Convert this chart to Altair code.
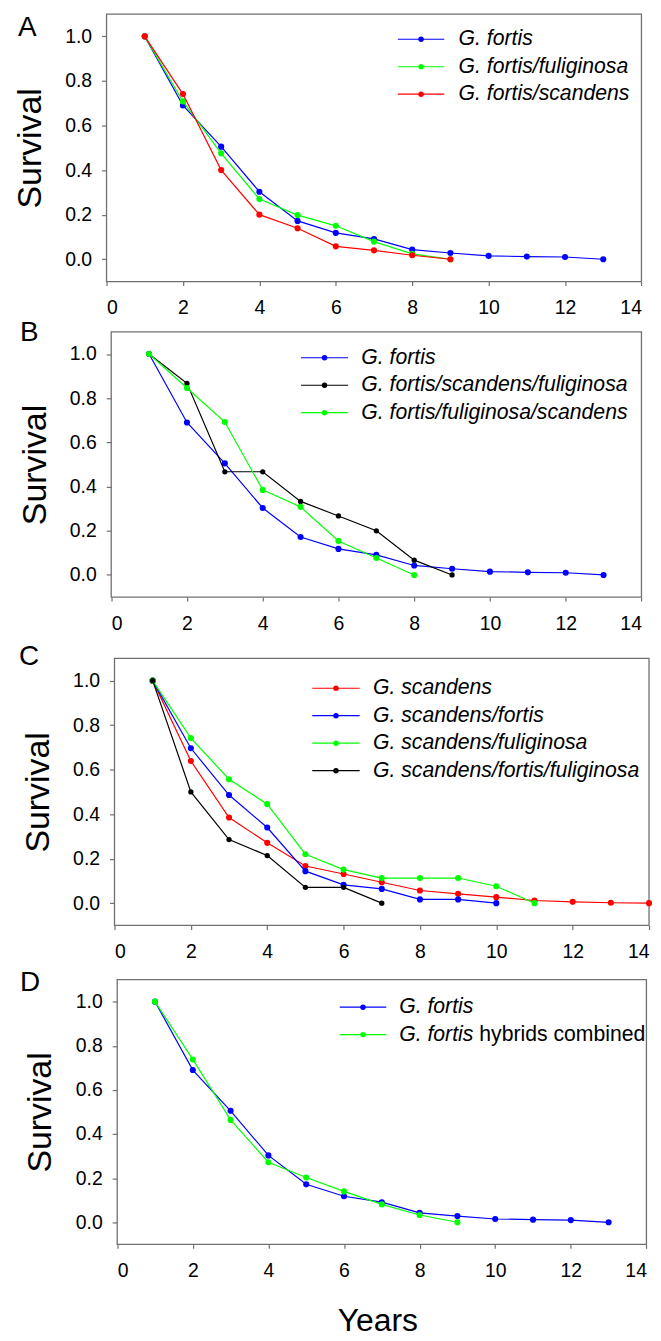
import altair as alt
import pandas as pd

# ---------------- data ----------------
years_fortis = list(range(1, 14))
fortis = [1.0, 0.69, 0.505, 0.303, 0.172, 0.118, 0.091, 0.043, 0.028, 0.015, 0.012, 0.010, 0.0]

years_9 = list(range(1, 10))
fortis_fuliginosa = [1.0, 0.708, 0.475, 0.270, 0.198, 0.150, 0.079, 0.024, 0.0]
fortis_scandens = [1.0, 0.741, 0.400, 0.200, 0.139, 0.058, 0.040, 0.018, 0.0]
fortis_scandens_fuliginosa = [1.0, 0.867, 0.467, 0.467, 0.333, 0.267, 0.200, 0.067, 0.0]

years_8 = list(range(1, 9))
fortis_fuliginosa_scandens = [1.0, 0.846, 0.692, 0.385, 0.308, 0.154, 0.077, 0.0]

years_14 = list(range(1, 15))
scandens = [1.0, 0.639, 0.385, 0.271, 0.167, 0.131, 0.094, 0.057, 0.042, 0.027, 0.012, 0.006, 0.002, 0.0]
years_10 = list(range(1, 11))
scandens_fortis = [1.0, 0.696, 0.486, 0.340, 0.144, 0.082, 0.064, 0.017, 0.017, 0.0]
years_11 = list(range(1, 12))
scandens_fuliginosa = [1.0, 0.742, 0.557, 0.445, 0.220, 0.151, 0.113, 0.113, 0.113, 0.076, 0.0]
years_7 = list(range(1, 8))
scandens_fortis_fuliginosa = [1.0, 0.5, 0.286, 0.214, 0.071, 0.071, 0.0]

fortis_hybrids = [1.0, 0.738, 0.464, 0.272, 0.203, 0.140, 0.081, 0.033, 0.0]

x_ticks = [0, 2, 4, 6, 8, 10, 12, 14]
y_ticks = [0.0, 0.2, 0.4, 0.6, 0.8, 1.0]

BLUE, GREEN, RED, BLACK = "#0000ff", "#00ff00", "#ff0000", "#000000"
FONT = "Liberation Sans"
FRAME = "#707070"

# series: (italic label, regular label, color, years, values)
panels_cfg = [
    dict(letter="A", a=0, w=537.4, h=268.7, d=0,
         letter_xy=(-89, 22.4),
         leg=dict(x1=292.7, x2=339.3, text_x=353.7, y0=25.3),
         series=[("G. fortis", "", BLUE, years_fortis, fortis),
                 ("G. fortis/fuliginosa", "", GREEN, years_9, fortis_fuliginosa),
                 ("G. fortis/scandens", "", RED, years_9, fortis_scandens)]),
    dict(letter="B", a=4.7, w=532.7, h=266.4, d=0.3,
         letter_xy=(-87, 9.7),
         leg=dict(x1=195.3, x2=242.7, text_x=256, y0=26.3),
         series=[("G. fortis", "", BLUE, years_fortis, fortis),
                 ("G. fortis/scandens/fuliginosa", "", BLACK, years_9, fortis_scandens_fuliginosa),
                 ("G. fortis/fuliginosa/scandens", "", GREEN, years_8, fortis_fuliginosa_scandens)]),
    dict(letter="C", a=8.0, w=537.0, h=268.3, d=11.3,
         letter_xy=(-88, 17.8),
         leg=dict(x1=206.7, x2=254.3, text_x=267.7, y0=41.3),
         series=[("G. scandens", "", RED, years_14, scandens),
                 ("G. scandens/fortis", "", BLUE, years_10, scandens_fortis),
                 ("G. scandens/fuliginosa", "", GREEN, years_11, scandens_fuliginosa),
                 ("G. scandens/fortis/fuliginosa", "", BLACK, years_7, scandens_fortis_fuliginosa)]),
    dict(letter="D", a=10.7, w=531.7, h=266.0, d=4.0,
         letter_xy=(-87, 15.0),
         leg=dict(x1=234.3, x2=281, text_x=294, y0=31.7, reg_dx=80.5),
         series=[("G. fortis", "", BLUE, years_fortis, fortis),
                 ("G. fortis", "hybrids combined", GREEN, years_9, fortis_hybrids)]),
]

GROUP_W = 546
ROW_GAP = 27.6
LEG_FS = 21.3


def one():
    return alt.Data(values=[{}])


def make_panel(cfg, last):
    a, w, h, d = cfg["a"], cfg["w"], cfg["h"], cfg["d"]
    xs = alt.Scale(domain=[0, 14], range=[a, a + w], nice=False, zero=False)
    ys = alt.Scale(domain=[-0.1, 1.1], range=[d + h, d], nice=False, zero=False)
    if last:
        xaxis = alt.Axis(values=x_ticks, title="Years", titleFontSize=32, titleFont=FONT,
                         titleFontWeight="normal", titleColor="#000000",
                         titleX=272, titleY=86.7, titleBaseline="alphabetic", titleAlign="center")
    else:
        xaxis = alt.Axis(values=x_ticks, title=None)
    yaxis = alt.Axis(values=y_ticks, format=".1f", title="Survival", titleFontSize=34,
                     titleFont=FONT, titleFontWeight="normal", titleColor="#000000",
                     titleX=-66.5, titleBaseline="alphabetic", offset=-a)

    layers = []
    layers.append(alt.Chart(one()).mark_rect(fill="#ffffff", fillOpacity=0, stroke=FRAME,
                                             strokeWidth=1.3)
                  .encode(x=alt.value(a), x2=alt.value(a + w), y=alt.value(d), y2=alt.value(d + h)))
    for it, reg, color, yrs, vals in cfg["series"]:
        df = pd.DataFrame({"year": yrs, "surv": vals})
        enc = dict(x=alt.X("year:Q", scale=xs, axis=xaxis),
                   y=alt.Y("surv:Q", scale=ys, axis=yaxis))
        layers.append(alt.Chart(df).mark_line(color=color, strokeWidth=1.2).encode(**enc))
        size = 28 if color == BLACK else 38
        layers.append(alt.Chart(df).mark_circle(color=color, size=size, opacity=1).encode(**enc))

    # legend
    lg = cfg["leg"]
    for i, (it, reg, color, yrs, vals) in enumerate(cfg["series"]):
        yy = lg["y0"] + i * ROW_GAP
        layers.append(alt.Chart(one()).mark_rule(color=color, strokeWidth=1.2)
                      .encode(x=alt.value(lg["x1"]), x2=alt.value(lg["x2"]), y=alt.value(yy)))
        layers.append(alt.Chart(one()).mark_circle(color=color, size=30, opacity=1)
                      .encode(x=alt.value((lg["x1"] + lg["x2"]) / 2), y=alt.value(yy)))
        layers.append(alt.Chart(one()).mark_text(text=it, align="left", baseline="middle",
                                                 fontStyle="italic", fontSize=LEG_FS, font=FONT,
                                                 color="#000000")
                      .encode(x=alt.value(lg["text_x"]), y=alt.value(yy)))
        if reg:
            layers.append(alt.Chart(one()).mark_text(text=reg, align="left", baseline="middle",
                                                     fontSize=LEG_FS, font=FONT, color="#000000")
                          .encode(x=alt.value(lg["text_x"] + lg["reg_dx"]), y=alt.value(yy)))

    lx, ly = cfg["letter_xy"]
    layers.append(alt.Chart(one()).mark_text(text=cfg["letter"], align="left",
                                             baseline="alphabetic", fontSize=28, font=FONT,
                                             color="#000000")
                  .encode(x=alt.value(lx), y=alt.value(ly)))

    return alt.layer(*layers).properties(width=GROUP_W, height=d + h)


panels = [make_panel(c, i == len(panels_cfg) - 1) for i, c in enumerate(panels_cfg)]

chart = (
    alt.vconcat(*panels, spacing=50, bounds="flush")
    .properties(padding={"left": 5, "top": 2, "right": 0, "bottom": 0})
    .configure_view(strokeWidth=0)
    .configure_axis(domain=False, grid=False, tickColor=FRAME, tickWidth=1.2,
                    labelFont=FONT, labelFontSize=19.5, labelColor="#000000")
    .configure_axisX(tickSize=4, labelPadding=13.5)
    .configure_axisY(tickSize=5, labelPadding=10)
)

chart.save("out.html", embed_options={"renderer": "svg", "actions": False})
